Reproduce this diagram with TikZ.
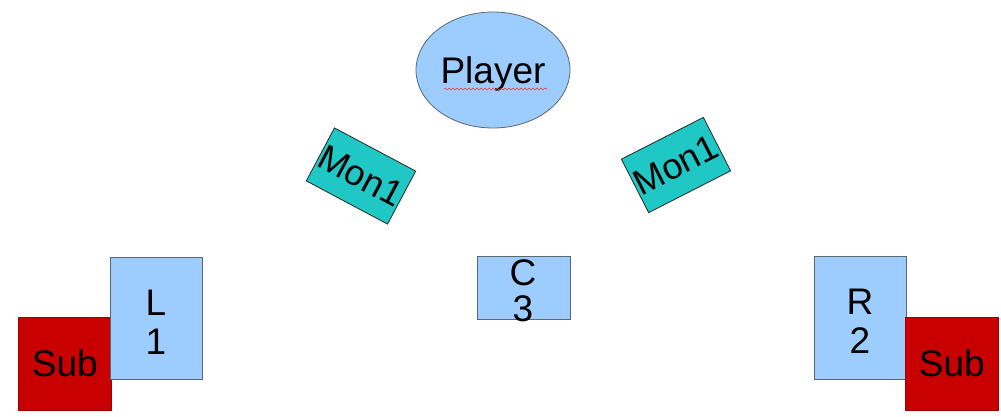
\documentclass[tikz,border=0pt]{standalone}
\usepackage{fontspec}
\setmainfont{Liberation Sans}
\usetikzlibrary{decorations.pathmorphing,shapes.geometric}
\definecolor{lblue}{HTML}{9DCCFF}
\definecolor{monc}{HTML}{1FC8C4}
\definecolor{subred}{HTML}{C80000}
\definecolor{edge}{HTML}{5A6670}
\tikzset{
  lab/.style={font=\fontsize{37}{39}\selectfont, align=center, inner sep=0pt},
  bluebox/.style={draw=edge, line width=0.8pt, fill=lblue, inner sep=0pt},
  subbox/.style={draw=subred!80!black, line width=0.5pt, fill=subred, inner sep=0pt, minimum width=93pt, minimum height=93pt, font=\fontsize{37}{39}\selectfont},
  monbox/.style={draw=black!85, line width=0.8pt, fill=monc, inner sep=0pt, minimum width=92pt, minimum height=60pt, font=\fontsize{36}{39}\selectfont},
}
\begin{document}
\begin{tikzpicture}[x=1pt,y=-1pt]
\useasboundingbox (0,0) rectangle (1001,416);
% Player
\node[ellipse, draw=edge, line width=0.8pt, fill=lblue, minimum width=154pt, minimum height=116pt, inner sep=0pt] (player) at (493,70) {};
\node[lab] (playertxt) at (493,74) {Player};
\draw[red!80, line width=0.6pt, decorate, decoration={snake, amplitude=1pt, segment length=4pt}] (444,89) -- (547,89);
% Mon1 boxes
\node[monbox, rotate=-28] (monL) at (361,176) {Mon1};
\node[monbox, rotate=27] (monR) at (676,165) {Mon1};
% Left group
\node[subbox, anchor=north west] (subL) at (18,317) {Sub};
\node[bluebox, minimum width=92pt, minimum height=122pt, anchor=north west] (L1) at (110,257) {};
\node[lab] (L1t) at (156,322) {L\\1};
% Centre
\node[bluebox, minimum width=93pt, minimum height=63pt, anchor=north west] (C3) at (477,256) {};
\node[lab, font=\fontsize{37}{36}\selectfont] (C3t) at (523,291) {C\\3};
% Right group
\node[bluebox, minimum width=92pt, minimum height=123pt, anchor=north west] (R2) at (814,256) {};
\node[lab] (R2t) at (860,321) {R\\2};
\node[subbox, anchor=north west] (subR) at (905,317) {Sub};
\end{tikzpicture}
\end{document}
